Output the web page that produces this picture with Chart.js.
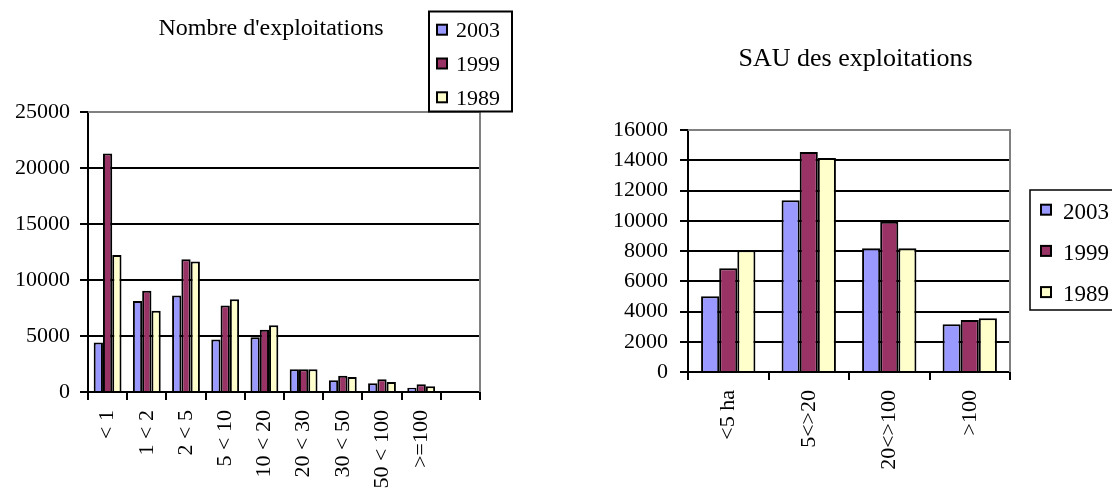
<!DOCTYPE html>
<html>
<head>
<meta charset="utf-8">
<script src="https://cdn.jsdelivr.net/npm/chart.js@4.4.1/dist/chart.umd.min.js"></script>
<style>
  html, body { margin: 0; padding: 0; background: #fff; overflow: hidden; }
  body { width: 1112px; height: 488px; position: relative; }
  canvas { position: absolute; top: 0; }
  #nb { left: 0; }
  #sau { left: 560px; }
</style>
</head>
<body>
<canvas id="nb" width="540" height="488"></canvas>
<canvas id="sau" width="552" height="488"></canvas>
<script>
// séries
const seriesNames = ['2003', '1999', '1989'];
const seriesColors = ['#9999FF', '#993366', '#FFFFCC'];

// Nombre d'exploitations (classes de taille, ha)
const nbCategories = ['< 1', '1 < 2', '2 < 5', '5 < 10', '10 < 20', '20 < 30', '30 < 50', '50 < 100', '>=100', ''];
const nb2003 = [4420, 8120, 8620, 4690, 4880, 2030, 1060, 780, 380];
const nb1999 = [21300, 9030, 11850, 7720, 5550, 2030, 1440, 1130, 690];
const nb1989 = [12230, 7250, 11660, 8290, 5960, 2030, 1340, 900, 520];
const nbTicks = [0, 5000, 10000, 15000, 20000, 25000];

// SAU des exploitations
const sauCategories = ['<5 ha', '5<>20', '20<>100', '>100'];
const sau2003 = [5010, 11360, 8190, 3150];
const sau1999 = [6860, 14540, 9930, 3440];
const sau1989 = [8050, 14150, 8190, 3550];
const sauTicks = [0, 2000, 4000, 6000, 8000, 10000, 12000, 14000, 16000];

const serif = "'Liberation Serif', 'Times New Roman', serif";

// titre, légende encadrée et cadre gris du tracé façon Excel
const excelDecor = {
    id: 'excelDecor',
    beforeDatasetsDraw(chart) {
        const a = chart.chartArea, ctx = chart.ctx;
        ctx.save();
        ctx.strokeStyle = '#808080';
        ctx.lineWidth = 2;
        ctx.beginPath();
        ctx.moveTo(a.left, a.top);
        ctx.lineTo(a.right, a.top);
        ctx.lineTo(a.right, a.bottom);
        ctx.stroke();
        ctx.restore();
    },
    afterDraw(chart, args, o) {
        const ctx = chart.ctx;
        ctx.save();
        ctx.fillStyle = '#000';
        ctx.font = o.titleSize + 'px ' + serif;
        ctx.textAlign = 'center';
        ctx.textBaseline = 'alphabetic';
        ctx.fillText(o.title, o.titleX, o.titleY);

        const L = o.legend;
        ctx.strokeStyle = '#000';
        ctx.lineWidth = L.border;
        ctx.fillStyle = '#fff';
        ctx.fillRect(L.x, L.y, L.w, L.h);
        ctx.strokeRect(L.x, L.y, L.w, L.h);
        ctx.font = L.size + 'px ' + serif;
        ctx.textAlign = 'left';
        chart.data.datasets.forEach((ds, i) => {
            const cy = L.firstRow + i * L.rowGap;
            ctx.fillStyle = ds.backgroundColor;
            ctx.fillRect(L.markX, cy - 5, 10, 10);
            ctx.lineWidth = 2;
            ctx.strokeRect(L.markX, cy - 5, 10, 10);
            ctx.fillStyle = '#000';
            ctx.fillText(ds.label, L.textX, cy + L.baseOff);
        });
        ctx.restore();
    }
};

function makeDatasets(values, catPct) {
    return seriesNames.map((name, i) => ({
        label: name,
        data: values[i],
        backgroundColor: seriesColors[i],
        borderColor: '#000',
        borderWidth: 2,
        barPercentage: 1,
        categoryPercentage: catPct
    }));
}

function makeScales(ticks, yWidth, xHeight, yPad) {
    const max = ticks[ticks.length - 1];
    const font = { family: serif, size: 22 };
    return {
        x: {
            grid: { drawOnChartArea: false, color: '#000', lineWidth: 2, tickLength: 8 },
            border: { color: '#000', width: 2 },
            ticks: { color: '#000', font: font, minRotation: 90, maxRotation: 90, autoSkip: false, padding: 10 },
            afterFit: s => { s.height = xHeight; }
        },
        y: {
            min: 0,
            max: max,
            afterBuildTicks: s => { s.ticks = ticks.map(v => ({ value: v })); },
            ticks: { color: '#000', font: font, padding: yPad, callback: v => String(v) },
            grid: {
                color: c => (c.tick && c.tick.value === max) ? '#808080' : '#000',
                tickColor: '#000',
                lineWidth: 2,
                tickLength: 8
            },
            border: { color: '#000', width: 2 },
            afterFit: s => { s.width = yWidth; }
        }
    };
}

new Chart(document.getElementById('nb'), {
    type: 'bar',
    data: {
        labels: nbCategories,
        datasets: makeDatasets([nb2003, nb1999, nb1989], 0.71)
    },
    options: {
        responsive: false,
        animation: false,
        layout: { padding: { top: 112, right: 60, left: 0, bottom: 0 } },
        plugins: {
            legend: { display: false },
            title: { display: false },
            tooltip: { enabled: false },
            excelDecor: {
                title: "Nombre d'exploitations", titleX: 271, titleY: 35, titleSize: 24,
                legend: { x: 429, y: 11.5, w: 83, h: 100, border: 2, size: 22,
                          markX: 437, textX: 456, firstRow: 29.7, rowGap: 33.8, baseOff: 7.5 }
            }
        },
        scales: makeScales(nbTicks, 88, 96, 10)
    },
    plugins: [excelDecor]
});

new Chart(document.getElementById('sau'), {
    type: 'bar',
    data: {
        labels: sauCategories,
        datasets: makeDatasets([sau2003, sau1999, sau1989], 0.675)
    },
    options: {
        responsive: false,
        animation: false,
        layout: { padding: { top: 130, right: 102, left: 0, bottom: 0 } },
        plugins: {
            legend: { display: false },
            title: { display: false },
            tooltip: { enabled: false },
            excelDecor: {
                title: 'SAU des exploitations', titleX: 295.5, titleY: 66, titleSize: 26,
                legend: { x: 470, y: 190, w: 100, h: 120, border: 1.5, size: 23,
                          markX: 481, textX: 503, firstRow: 209.7, rowGap: 41.2, baseOff: 9 }
            }
        },
        scales: makeScales(sauTicks, 128, 116, 12)
    },
    plugins: [excelDecor]
});
</script>
</body>
</html>
